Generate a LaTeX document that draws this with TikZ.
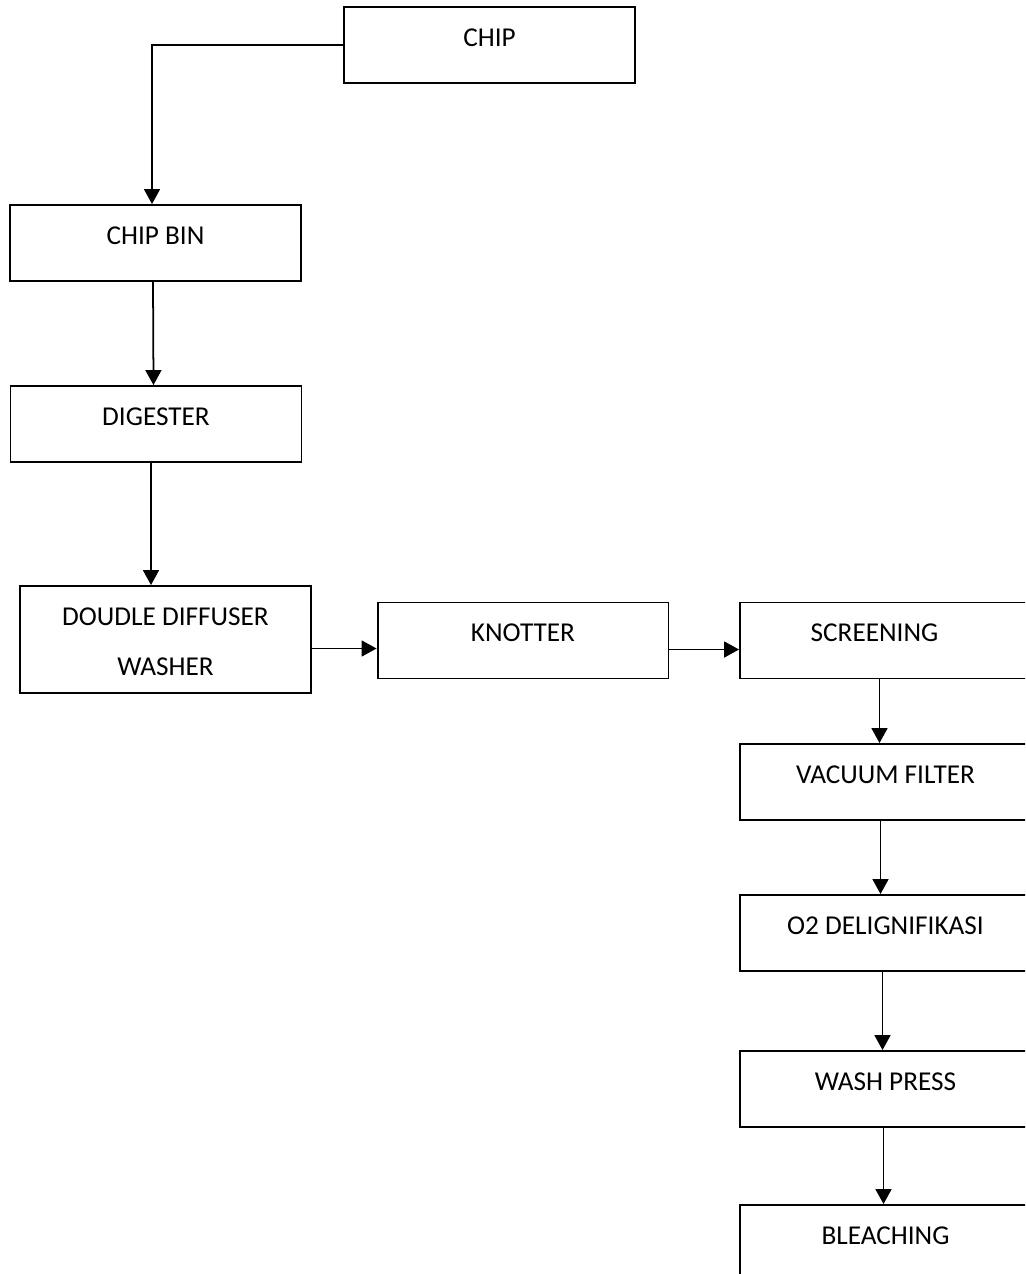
\documentclass[tikz,border=0pt]{standalone}
\usepackage{fontspec}
\setmainfont{Carlito}
\usepackage{tikz}
\usetikzlibrary{arrows.meta, positioning, calc}

\begin{document}
\begin{tikzpicture}[x=0.02cm, y=-0.02cm,
    font=\fontsize{15.5}{28.5}\selectfont,
    stage/.style={draw, line width=1.1pt, minimum width=5.82cm, minimum height=1.52cm, inner sep=0pt},
    tag/.style={anchor=north, inner sep=0pt, yshift=-0.44cm, align=center},
    flow/.style={line width=1pt, -{Triangle[length=0.3cm, width=0.32cm]}}]
  \useasboundingbox (0,0) rectangle (1025,1274);
  \clip (0,0) rectangle (1025,1274);

  % left column
  \node[stage, label={[tag]north:CHIP}] (chip) at (489.5,45) {};
  \node[stage, label={[tag]north:CHIP BIN}] (chipbin) at (155.5,243) {};
  \node[stage, label={[tag]north:DIGESTER}] (digester) at (156,424) {};
  \node[stage, minimum height=2.14cm, label={[tag]north:DOUDLE DIFFUSER\\WASHER}] (ddw) at (165.5,639.5) {};

  % middle row and right column
  \node[stage, label={[tag]north:KNOTTER}] (knotter) at (523,640.5) {};
  \node[stage, label={[tag, xshift=-0.22cm]north:SCREENING}] (screening) at (885.5,640.5) {};
  \node[stage, label={[tag]north:VACUUM FILTER}] (vacuum) at (885.5,782) {};
  \node[stage, label={[tag]north:O2 DELIGNIFIKASI}] (delig) at (885.5,933) {};
  \node[stage, label={[tag]north:WASH PRESS}] (wash) at (885.5,1089) {};
  \node[stage, label={[tag]north:BLEACHING}] (bleach) at (885.5,1243) {};

  \draw[flow] (chip.west) -| ([xshift=-0.07cm]chipbin.north);
  \draw[flow] ([xshift=-0.05cm]chipbin.south) -- ([xshift=-0.05cm]digester.north);
  \draw[flow] ([xshift=-0.1cm]digester.south) -- ([xshift=-0.1cm]digester.south |- ddw.north);
  \draw[flow] ([yshift=-0.18cm]ddw.east) -- ([yshift=-0.18cm]knotter.west |- ddw.east);
  \draw[flow] ([yshift=-0.18cm]knotter.east) -- ([yshift=-0.18cm]screening.west);
  \draw[flow] ([xshift=-0.12cm]screening.south) -- ([xshift=-0.12cm]vacuum.north);
  \draw[flow] ([xshift=-0.1cm]vacuum.south) -- ([xshift=-0.1cm]delig.north);
  \draw[flow] ([xshift=-0.06cm]delig.south) -- ([xshift=-0.06cm]wash.north);
  \draw[flow] ([xshift=-0.04cm]wash.south) -- ([xshift=-0.04cm]bleach.north);
\end{tikzpicture}
\end{document}
